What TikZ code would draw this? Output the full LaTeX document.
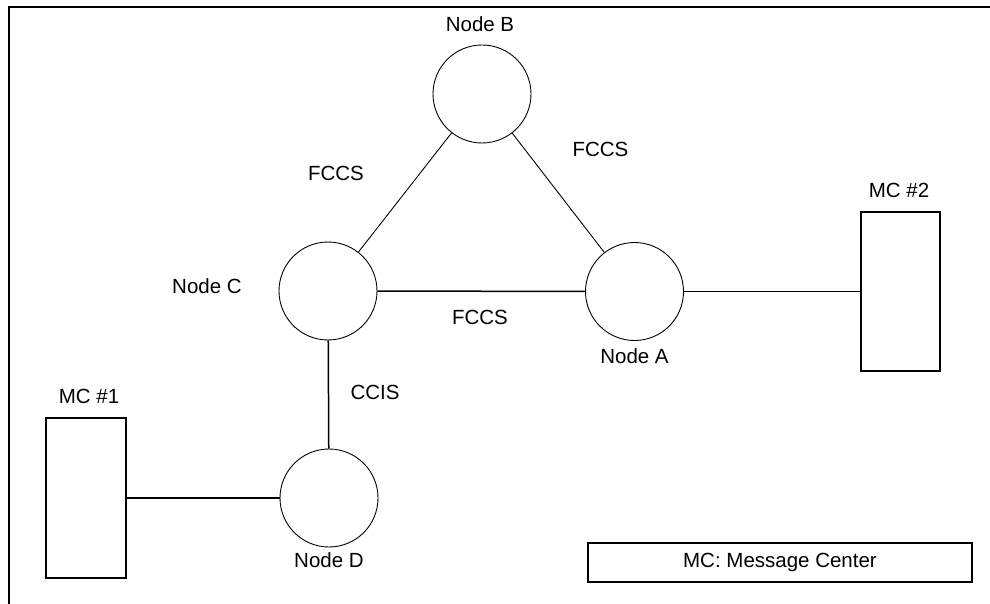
\documentclass[tikz,border=0pt]{standalone}
\usepackage{fontspec}
\setmainfont{Liberation Sans}
\usepackage{tikz}
\usetikzlibrary{positioning}
\tikzset{
    switch node/.style={circle, draw=black, line width=0.45pt, minimum size=49pt, inner sep=0pt},
    center node/.style={rectangle, draw=black, line width=0.75pt, minimum width=40pt, minimum height=80pt, inner sep=0pt},
    legend box/.style={rectangle, draw=black, line width=0.75pt, minimum width=192pt, minimum height=19.5pt, inner sep=0pt, font=\fontsize{10.25}{12}\selectfont},
    name label/.style={font=\fontsize{10.25}{12}\selectfont, inner sep=0pt},
    trunk line/.style={line width=0.75pt, black},
    thin trunk/.style={line width=0.45pt, black},
    frame line/.style={line width=0.75pt, black},
}

\begin{document}
\begin{tikzpicture}[x=0.5pt, y=-0.5pt]
        \useasboundingbox (0,0) rectangle (990,604);

        % Frame
        \draw[frame line] (9,604) -- (9,7) -- (990,7);

        % Nodes
        \node[switch node] (nodeB) at (482,94) {};
        \node[switch node] (nodeC) at (328,291) {};
        \node[switch node] (nodeA) at (634.5,291.5) {};
        \node[switch node] (nodeD) at (329,498) {};
        \node[center node] (mc1) at (86,498) {};
        \node[center node, minimum width=39.5pt, minimum height=79.5pt] (mc2) at (900.5,291.5) {};
        \node[legend box] (legend) at (780,562.5) {MC: Message Center};

        % Links
        \draw[thin trunk] (nodeB) -- (nodeC);
        \draw[thin trunk] (nodeB) -- (nodeA);
        \draw[trunk line] (nodeC) -- (nodeA);
        \draw[trunk line] (nodeA) -- (mc2);
        \draw[trunk line] (nodeC) -- (nodeD);
        \draw[trunk line] (mc1) -- (nodeD);

        % Labels
        \node[name label] (labB) at (480,24.5) {Node B};
        \node[name label] (labC) at (207,286) {Node C};
        \node[name label] (labA) at (634.5,356) {Node A};
        \node[name label] (labD) at (329,560) {Node D};
        \node[name label] (labMCa) at (89,396.5) {MC \#1};
        \node[name label] (labMCb) at (899,190) {MC \#2};
        \node[name label] (fccsBC) at (336,173.5) {FCCS};
        \node[name label] (fccsBA) at (600.5,149) {FCCS};
        \node[name label] (fccsCA) at (480,317.5) {FCCS};
        \node[name label] (ccisCD) at (375,392) {CCIS};
    \end{tikzpicture}
\end{document}
